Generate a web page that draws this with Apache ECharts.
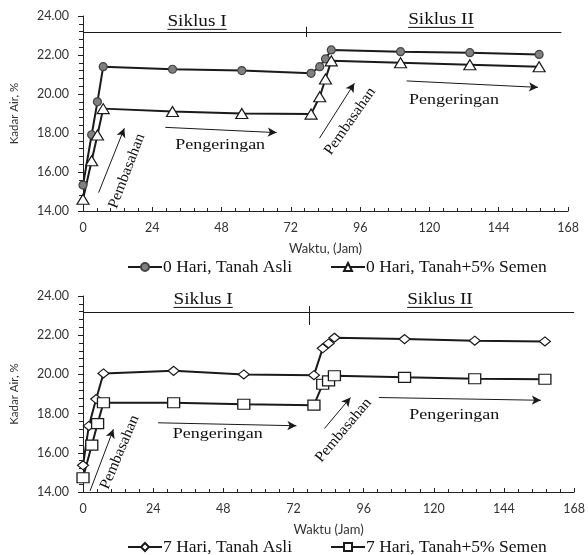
<!DOCTYPE html>
<html>
<head>
<meta charset="utf-8">
<script src="https://cdn.jsdelivr.net/npm/echarts@6/dist/echarts.min.js"></script>
<style>
  html, body { margin: 0; padding: 0; background: #fff; }
  #chart { width: 588px; height: 555px; }
</style>
</head>
<body>
<div id="chart"></div>
<script>
// waktu pengukuran (jam)
const jam = [0, 3, 5, 7, 31, 55, 79, 82, 84, 86, 110, 134, 158];
const jam7Asli = [0, 2, 4.5, 7, 31, 55, 79, 82, 84, 86, 110, 134, 158];

// kadar air (%)
const kadar0Asli = [15.33, 17.91, 19.6, 21.4, 21.27, 21.2, 21.06, 21.4, 21.8, 22.26, 22.17, 22.12, 22.03];
const kadar0Semen = [14.6, 16.58, 17.9, 19.25, 19.1, 19.0, 18.97, 19.86, 20.77, 21.7, 21.6, 21.5, 21.4];
const kadar7Asli = [15.36, 17.37, 18.74, 20.05, 20.18, 20.0, 19.96, 21.33, 21.58, 21.87, 21.8, 21.72, 21.68];
const kadar7Semen = [14.73, 16.39, 17.49, 18.55, 18.55, 18.48, 18.43, 19.5, 19.67, 19.93, 19.85, 19.78, 19.75];

const namaSeri = ['0 Hari, Tanah Asli', '0 Hari, Tanah+5% Semen', '7 Hari, Tanah Asli', '7 Hari, Tanah+5% Semen'];
const xTicks = [0, 24, 48, 72, 96, 120, 144, 168];
const yTicks = [14, 16, 18, 20, 22, 24];

// garis siklus & panah keterangan (koordinat data)
const garisSiklus = [23.15, 23.15];
const batasSiklus = [77.3, 77.5];
const panahAtas = [
  [[5.4, 14.94], [14.3, 18.24]],
  [[28.5, 18.29], [67.1, 18.02]],
  [[81.9, 17.73], [94, 20.55]],
  [[112.1, 20.67], [157.6, 20.34]]
];
const panahBawah = [
  [[2.4, 14.05], [10.4, 17.2]],
  [[25.7, 17.53], [73, 17.38]],
  [[82.6, 17.24], [91.5, 18.82]],
  [[101.2, 18.82], [156.6, 18.68]]
];
// [teks, x, y, sudut]
const teksAtas = [
  ['Pembasahan', 15.2, 16.05, 69],
  ['Pengeringan', 47.5, 17.38, 0],
  ['Pembasahan', 92.5, 18.6, 55],
  ['Pengeringan', 128.5, 19.69, 0]
];
const teksBawah = [
  ['Pembasahan', 12.6, 16.03, 67],
  ['Pengeringan', 46.1, 16.95, 0],
  ['Pembasahan', 89.1, 17.15, 50],
  ['Pengeringan', 127, 17.92, 0]
];
const siklusAtas = [['Siklus I', 39.5, 23.7], ['Siklus II', 124, 23.8]];
const siklusBawah = [['Siklus I', 41.1, 23.8], ['Siklus II', 122.1, 23.8]];

const SERIF = '"Liberation Serif", "DejaVu Serif", serif';
const SANS = 'Lato, "Liberation Sans", sans-serif';
const HITAM = '#1a1a1a';

function pasangkan(xs, ys) {
  return xs.map((x, i) => [x, ys[i]]);
}

function sumbuX(idx, nama) {
  return {
    gridIndex: idx,
    type: 'value',
    min: 0,
    max: 168,
    interval: 24,
    name: nama,
    nameLocation: 'middle',
    nameGap: 31,
    nameTextStyle: { fontFamily: SANS, fontSize: 13, color: '#333' },
    axisLine: { lineStyle: { color: '#222', width: 1 } },
    axisTick: { show: true, inside: true, length: 4, lineStyle: { color: '#222' } },
    minorTick: { show: true, splitNumber: 5, length: 3, lineStyle: { color: '#222' } },
    axisLabel: { fontFamily: SANS, fontSize: 12.5, color: '#333', margin: 10 },
    splitLine: { show: false }
  };
}

function sumbuY(idx) {
  return {
    gridIndex: idx,
    type: 'value',
    min: 14,
    max: 24,
    interval: 2,
    name: 'Kadar Air, %',
    nameLocation: 'middle',
    nameRotate: 90,
    nameGap: 63,
    nameTextStyle: { fontFamily: SANS, fontSize: 11.5, color: '#333' },
    axisLine: { show: true, lineStyle: { color: '#222', width: 1 } },
    axisTick: { show: true, length: 5, lineStyle: { color: '#222' } },
    minorTick: { show: true, splitNumber: 5, length: 4, lineStyle: { color: '#222' } },
    axisLabel: {
      fontFamily: SANS, fontSize: 12.5, color: '#333', margin: 14,
      formatter: v => yTicks.includes(v) ? v.toFixed(2) : ''
    },
    splitLine: { show: false }
  };
}

function garisKeterangan(idx, panah) {
  const data = [];
  // garis horizontal siklus
  data.push([{ coord: [0, garisSiklus[idx]], symbol: 'none' }, { coord: [idx === 0 ? 165.7 : 168, garisSiklus[idx]], symbol: 'none' }]);
  // penanda batas siklus
  data.push([{ coord: [batasSiklus[idx], idx === 0 ? 23.45 : 23.49], symbol: 'none' }, { coord: [batasSiklus[idx], idx === 0 ? 22.92 : 22.52], symbol: 'none' }]);
  panah.forEach(p => {
    data.push([{ coord: p[0], symbol: 'none' }, { coord: p[1], symbol: 'arrow', symbolSize: [7, 9] }]);
  });
  return {
    silent: true,
    animation: false,
    symbol: ['none', 'arrow'],
    label: { show: false },
    lineStyle: { color: HITAM, width: 1, type: 'solid' },
    emphasis: { disabled: true },
    data: data
  };
}

function seri(nama, idx, xs, ys, simbol, ukuran, isi) {
  return {
    name: nama,
    type: 'line',
    xAxisIndex: idx,
    yAxisIndex: idx,
    data: pasangkan(xs, ys),
    symbol: simbol,
    symbolSize: ukuran,
    showAllSymbol: true,
    lineStyle: { color: HITAM, width: 2 },
    itemStyle: { color: isi, borderColor: HITAM, borderWidth: 1.2 },
    z: 3
  };
}

const legendaGaya = {
  itemWidth: 34,
  itemHeight: 10,
  itemGap: 38,
  textStyle: { fontFamily: SERIF, fontSize: 17.5, color: '#111', padding: [0, 0, 0, -4] }
};

const chart = echarts.init(document.getElementById('chart'));

const seriAtas1 = seri(namaSeri[0], 0, jam, kadar0Asli, 'circle', 8, '#808080');
seriAtas1.itemStyle.borderColor = '#444';
seriAtas1.markLine = garisKeterangan(0, panahAtas);
const seriBawah1 = seri(namaSeri[2], 1, jam7Asli, kadar7Asli, 'diamond', [11, 9], '#fff');
seriBawah1.markLine = garisKeterangan(1, panahBawah);

chart.setOption({
  animation: false,
  grid: [
    { left: 83, top: 16, width: 485, height: 195 },
    { left: 83, top: 296, width: 492, height: 196 }
  ],
  xAxis: [sumbuX(0, 'Waktu, (Jam)'), sumbuX(1, 'Waktu (Jam)')],
  yAxis: [sumbuY(0), sumbuY(1)],
  legend: [
    Object.assign({ data: [namaSeri[0], namaSeri[1]], left: 122, top: 253 }, legendaGaya),
    Object.assign({ data: [namaSeri[2], namaSeri[3]], left: 122, top: 533 }, legendaGaya)
  ],
  series: [
    seriAtas1,
    seri(namaSeri[1], 0, jam, kadar0Semen, 'triangle', [12, 10], '#fff'),
    seriBawah1,
    seri(namaSeri[3], 1, jam, kadar7Semen, 'rect', [12, 10], '#fff')
  ]
});

// teks keterangan ditempatkan lewat konversi koordinat data
const kanvas = document.createElement('canvas').getContext('2d');
function lebarTeks(t, font) {
  kanvas.font = font;
  return kanvas.measureText(t).width;
}

const grafik = [];
function tambahTeks(daftar, idx) {
  daftar.forEach(t => {
    const p = chart.convertToPixel({ gridIndex: idx }, [t[1], t[2]]);
    grafik.push({
      type: 'text',
      x: p[0],
      y: p[1],
      rotation: t[3] * Math.PI / 180,
      scaleX: t[3] === 0 ? 1.2 : 1.05,
      silent: true,
      style: {
        text: t[0],
        font: '15px ' + SERIF,
        fill: '#111',
        align: 'center',
        verticalAlign: 'middle'
      }
    });
  });
}
function tambahSiklus(daftar, idx) {
  daftar.forEach(t => {
    const p = chart.convertToPixel({ gridIndex: idx }, [t[1], t[2]]);
    const w = lebarTeks(t[0], '16px ' + SERIF) * 1.2;
    grafik.push({
      type: 'text',
      x: p[0],
      y: p[1],
      scaleX: 1.2,
      silent: true,
      style: { text: t[0], font: '16px ' + SERIF, fill: '#111', align: 'center', verticalAlign: 'middle' }
    });
    grafik.push({
      type: 'line',
      silent: true,
      shape: { x1: p[0] - w / 2, y1: p[1] + 7.5, x2: p[0] + w / 2, y2: p[1] + 7.5 },
      style: { stroke: '#111', lineWidth: 1 }
    });
  });
}
tambahTeks(teksAtas, 0);
tambahTeks(teksBawah, 1);
tambahSiklus(siklusAtas, 0);
tambahSiklus(siklusBawah, 1);

chart.setOption({ graphic: grafik });
</script>
</body>
</html>
